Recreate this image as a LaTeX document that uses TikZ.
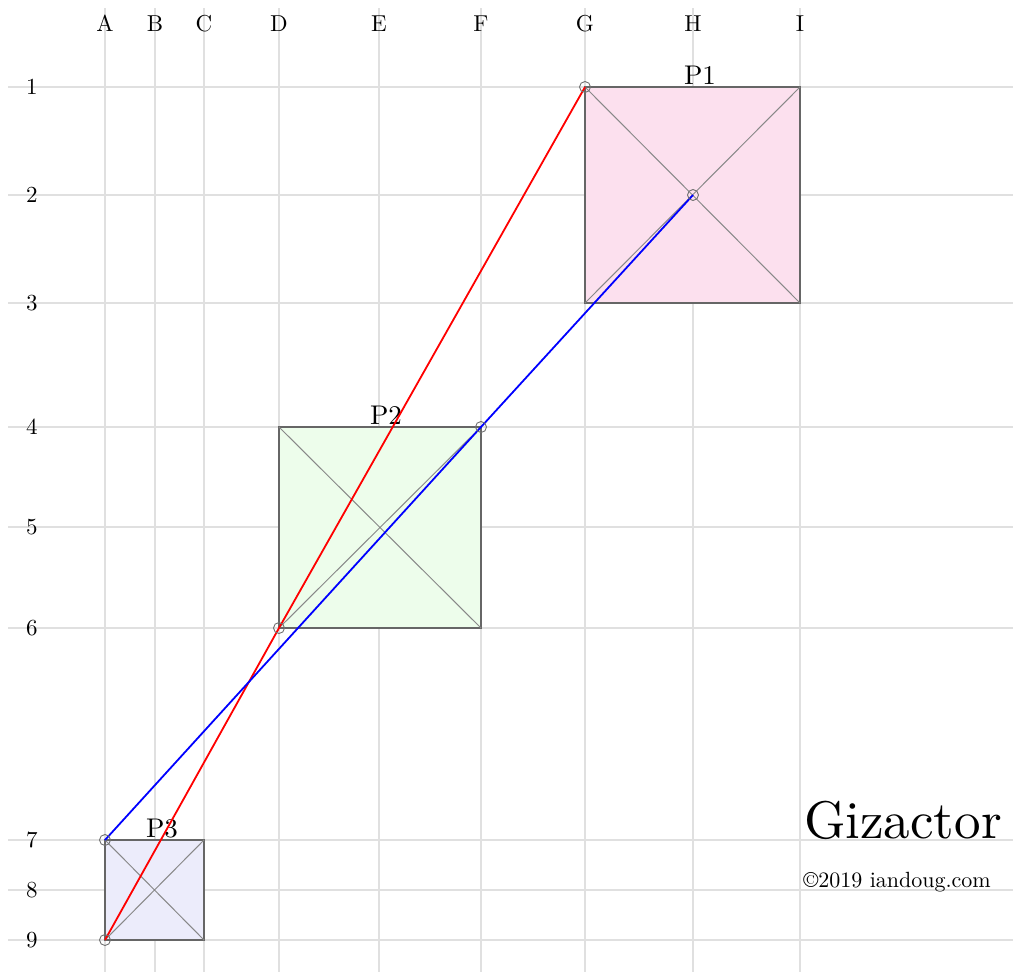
\documentclass[tikz,border=0pt]{standalone}
\usepackage{tikz}
\usetikzlibrary{positioning}

\definecolor{gridgray}{HTML}{E0E0E0}
\definecolor{boxgray}{HTML}{666666}
\definecolor{diaggray}{HTML}{888888}
\definecolor{ringgray}{HTML}{707070}
\definecolor{pinkfill}{HTML}{FCE0EE}
\definecolor{greenfill}{HTML}{EDFDEB}
\definecolor{lavfill}{HTML}{ECECFB}

\begin{document}
\begin{tikzpicture}[
      x=1pt, y=-1pt,
      grid/.style={draw=gridgray, line width=1.3pt},
      lbl/.style={font=\normalsize, scale=2.3, anchor=base, inner sep=0pt},
      pbox/.style={draw=boxgray, line width=1.5pt},
      diag/.style={draw=diaggray, line width=1pt},
      plbl/.style={font=\normalsize, scale=2.7, anchor=base, inner sep=0pt},
      ring/.style={circle, draw=ringgray, minimum size=11pt, inner sep=0pt,
                   line width=0.9pt},
      redl/.style={draw=red, line width=1.8pt},
      bluel/.style={draw=blue, line width=1.8pt},
    ]
    \useasboundingbox (0,0) rectangle (1013,972);

    % grid columns and rows
    \foreach \c/\x in {A/105,B/155,C/204,D/279,E/379,F/481,G/585,H/693,I/800}{
      \draw[grid] (\x,8) -- (\x,972);
      \node[lbl] (col\c) at (\x,31) {\c};
      \foreach \r/\y in {1/87,2/195,3/303,4/427,5/527,6/628,7/840,8/890,9/940}{
        \coordinate (\c\r) at (\x,\y);
      }
    }
    \foreach \r/\y in {1/87,2/195,3/303,4/427,5/527,6/628,7/840,8/890,9/940}{
      \draw[grid] (8,\y) -- (1013,\y);
      \node[lbl] (row\r) at (32,\y+7) {\r};
    }

    % pieces
    \filldraw[pbox, fill=pinkfill]  (G1) rectangle (I3);
    \filldraw[pbox, fill=greenfill] (D4) rectangle (F6);
    \filldraw[pbox, fill=lavfill]   (A7) rectangle (C9);
    \draw[diag] (G1) -- (I3) (I1) -- (G3);
    \draw[diag] (D4) -- (F6) (F4) -- (D6);
    \draw[diag] (A7) -- (C9) (C7) -- (A9);
    \node[plbl] (p1) at (700,84)  {P1};
    \node[plbl] (p2) at (386,424) {P2};
    \node[plbl] (p3) at (162,837) {P3};

    % moves
    \draw[redl]  (G1) -- (D6) -- (A9);
    \draw[bluel] (H2) -- (F4) -- (A7);
    \foreach \p in {G1,H2,F4,D6,A7,A9}
      \node[ring] (ring\p) at (\p) {};

    % title
    \node[font=\normalsize, scale=5.3, anchor=base west, inner sep=0pt]
         (title) at (803,838) {Gizactor};
    \node[font=\normalsize, scale=2.2, anchor=base west, inner sep=0pt]
         (copy) at (803,887) {\textcopyright2019 iandoug.com};
\end{tikzpicture}
\end{document}
